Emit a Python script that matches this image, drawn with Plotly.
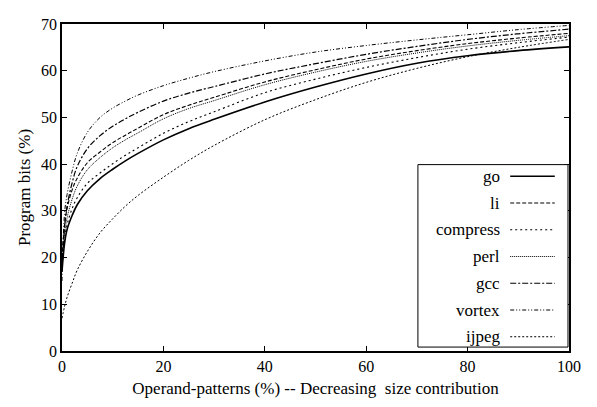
import plotly.graph_objects as go

# x positions (Operand-patterns %)
x_pct = [0, 0.5, 1, 2, 3, 5, 7.5, 10, 12.5, 15, 20, 25, 30, 40, 50, 60, 70, 80, 90, 100]

names = ["go", "li", "compress", "perl", "gcc", "vortex", "ijpeg"]

go_vals = [17, 23, 26, 29, 31.3, 34.3, 36.9, 38.9, 40.7, 42.3, 45.2, 47.6, 49.6, 53.3, 56.5, 59.3, 61.6, 63.2, 64.3, 65.1]
li_vals = [20, 27, 30.5, 34.5, 37, 40.3, 42.6, 44.6, 46.2, 47.7, 50.6, 52.6, 54.3, 57.6, 60.2, 62.5, 64.3, 65.8, 67, 68]
compress_vals = [18, 24, 27, 30.5, 32.8, 35.9, 38.1, 40.1, 41.9, 43.5, 46.6, 49.1, 51.2, 55.3, 58.2, 60.7, 62.8, 64.6, 66, 67.2]
perl_vals = [19, 25, 28.5, 32.5, 35.3, 38.8, 41.4, 43.5, 45.2, 46.7, 49.7, 51.9, 53.6, 57, 59.7, 62, 63.8, 65.3, 66.5, 67.5]
gcc_vals = [17, 26.5, 31, 36, 39.5, 43.3, 46.1, 48.1, 49.7, 51.1, 53.5, 55.2, 56.6, 59.3, 61.5, 63.5, 65.2, 66.7, 67.9, 68.9]
vortex_vals = [15, 29.5, 33.5, 38.5, 42.3, 46.8, 50, 52, 53.5, 54.8, 56.8, 58.4, 59.8, 62.1, 64, 65.4, 66.6, 67.7, 68.8, 69.7]
ijpeg_vals = [7, 9.5, 11.5, 14.5, 17.3, 21.3, 25.3, 28.3, 31, 33.3, 37.2, 40.8, 44, 49.5, 53.8, 57.5, 60.5, 63, 65, 66.7]

x_ticks = [0, 20, 40, 60, 80, 100]
y_ticks = [0, 10, 20, 30, 40, 50, 60, 70]

series = [go_vals, li_vals, compress_vals, perl_vals, gcc_vals, vortex_vals, ijpeg_vals]
dashes = ["solid", "4px,2px", "2px,3px", "1px,1px", "6px,2px,2px,2px", "4px,2px,1px,2px,1px,2px", "2px,2px"]
widths = [1.6, 1.1, 1.1, 1.0, 1.2, 1.0, 1.0]

fig = go.Figure()
for n, v, d, w in zip(names, series, dashes, widths):
    fig.add_trace(go.Scatter(x=x_pct, y=v, mode="lines", name=n, line_shape="spline",
                             line=dict(color="black", width=w, dash=d), showlegend=False))

FAMILY = "Liberation Serif, Times New Roman, Tinos, DejaVu Serif, serif"
font = dict(family=FAMILY, size=17, color="black")
tick_font = dict(family=FAMILY, size=16, color="black")

# manual gnuplot-style legend (text then sample line)
shapes = [dict(type="rect", xref="paper", yref="paper", x0=0.702, x1=0.998, y0=0.012, y1=0.570,
               line=dict(color="black", width=1), fillcolor="white", layer="above")]
annotations = []
for i, (n, d, w) in enumerate(zip(names, dashes, widths)):
    yp = (351 - (172 + 27.4 * i)) / 335
    annotations.append(dict(x=0.868, y=yp, xref="paper", yref="paper", text=n, showarrow=False,
                            xanchor="right", yanchor="middle", font=font))
    shapes.append(dict(type="line", xref="paper", yref="paper", x0=0.884, x1=0.972, y0=yp, y1=yp,
                       line=dict(color="black", width=w, dash=d), layer="above"))

fig.update_layout(
    width=597, height=407,
    margin=dict(l=54, r=36, t=8, b=64),
    paper_bgcolor="white", plot_bgcolor="white",
    font=font,
    shapes=shapes, annotations=annotations,
    showlegend=False,
)
fig.update_xaxes(range=[0, 100], tickvals=x_ticks, ticks="inside", ticklen=5, tickcolor="black",
                 showline=True, linecolor="black", linewidth=1.5, mirror="allticks", showgrid=False,
                 zeroline=False, tickfont=tick_font,
                 title=dict(text="Operand-patterns (%) -- Decreasing  size contribution",
                            font=font, standoff=8))
fig.update_yaxes(range=[0, 70], tickvals=y_ticks, ticks="inside", ticklen=5, tickcolor="black",
                 showline=True, linecolor="black", linewidth=1.5, mirror="allticks", showgrid=False,
                 zeroline=False, tickfont=tick_font,
                 title=dict(text="Program bits (%)", font=font, standoff=6))

fig.write_html("out.html")
